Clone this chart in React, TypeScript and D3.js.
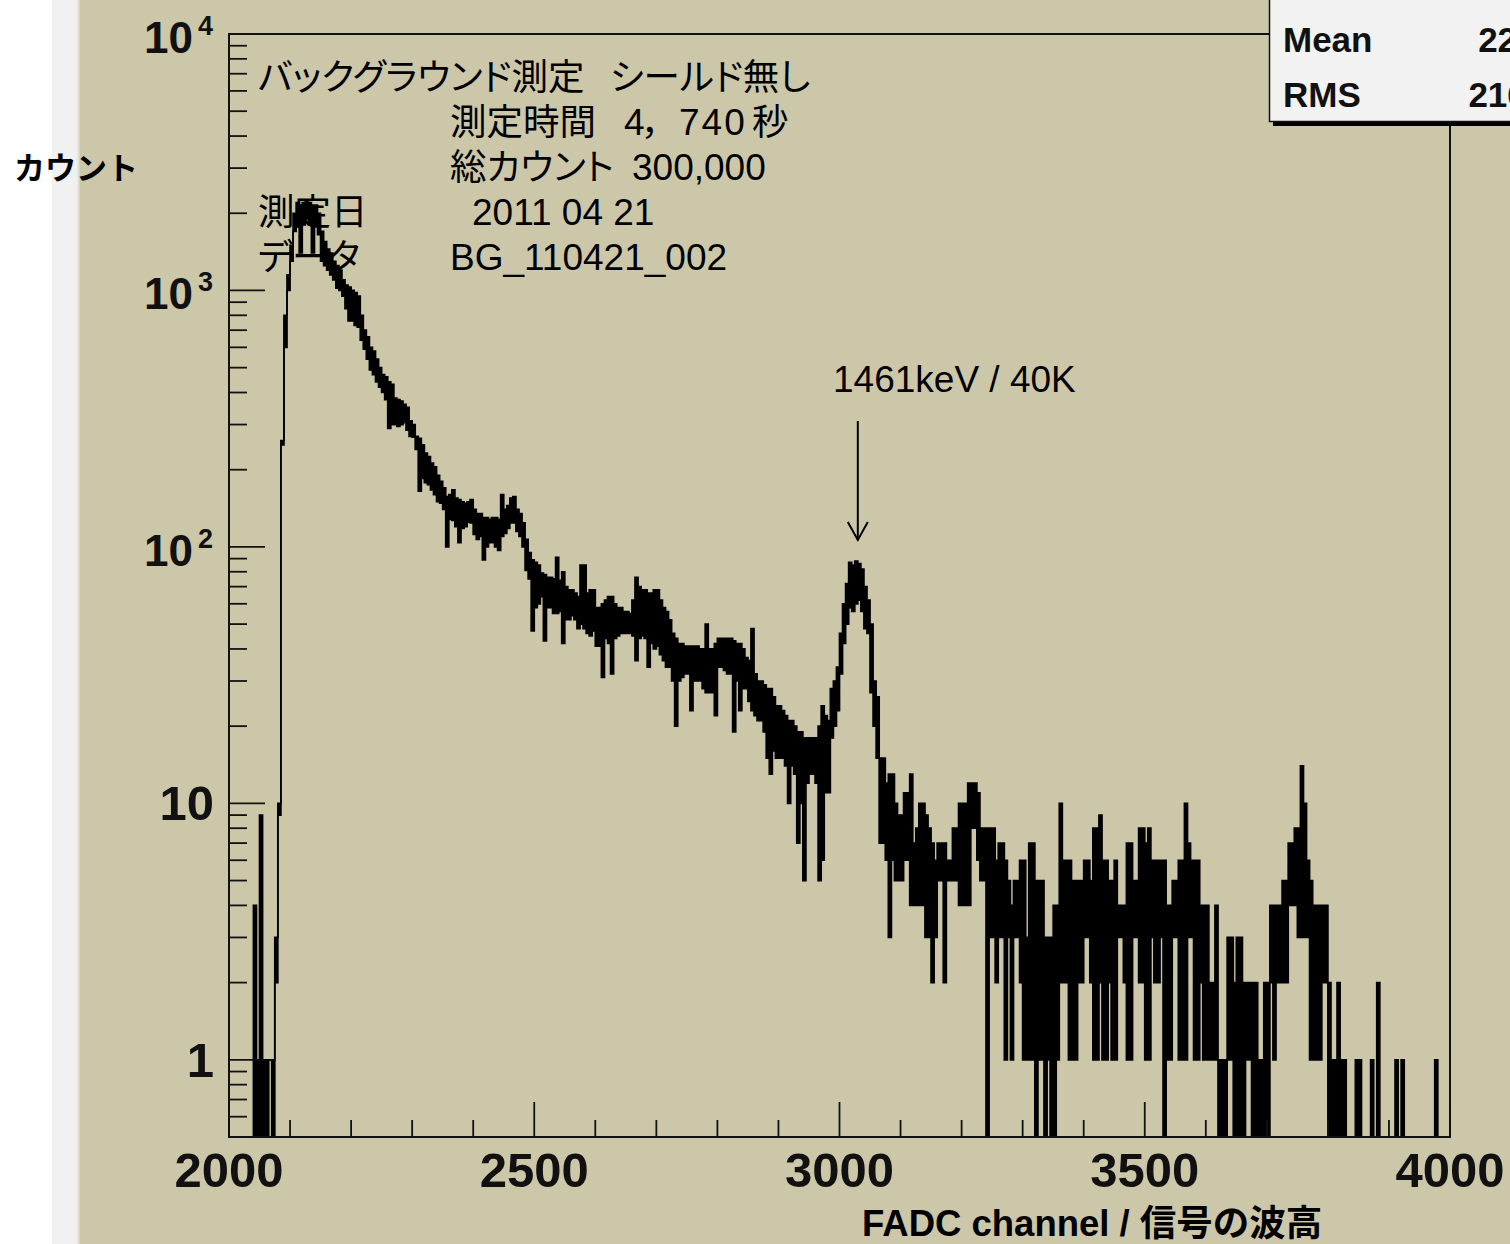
import React from 'react';
import * as d3 from 'd3';

// ---- data ----
// The spectrum is drawn with 1-channel bins in the original, so at this scale it
// appears as a band. For every 5-channel group the upper and lower edge of that
// band (counts per bin) are read off the picture.
const channelStart = 2000;
const groupWidth = 5;

const bandHigh: number[] = [
  0, 0, 0, 0, 0, 0, 0, 0, 4, 1,
  9, 1, 1, 1, 1, 3, 10, 260, 800, 1150,
  1500, 2000, 2200, 2150, 2200, 2250, 2200, 2150, 2150, 2000,
  1700, 1550, 1450, 1400, 1300, 1250, 1200, 1100, 1050, 1030,
  1000, 980, 950, 800, 700, 660, 600, 580, 540, 500,
  470, 460, 440, 430, 380, 375, 370, 360, 350, 310,
  300, 270, 265, 250, 232, 225, 212, 205, 190, 180,
  170, 157, 160, 167, 155, 153, 150, 148, 150, 153,
  140, 135, 135, 130, 130, 128, 130, 130, 128, 160,
  140, 145, 155, 157, 140, 135, 124, 107, 95, 89,
  87, 85, 79, 78, 76, 76, 75, 91, 74, 80,
  70, 68, 68, 66, 64, 85, 85, 66, 68, 68,
  58, 58, 60, 62, 64, 64, 60, 58, 58, 56,
  56, 55, 62, 76, 70, 68, 68, 66, 66, 68,
  68, 62, 58, 56, 52, 46, 44, 42, 42, 41,
  41, 41, 41, 41, 40, 40, 50, 40, 40, 42,
  44, 44, 44, 44, 44, 43, 42, 42, 40, 37,
  36, 48, 32, 30, 30, 29, 28, 28, 26, 24,
  24, 23, 22, 21, 21, 20, 19, 19, 18, 18,
  18, 18, 18, 20, 24, 22, 21, 28, 30, 34,
  46, 60, 72, 87, 85, 88, 86, 82, 70, 62,
  50, 30, 26, 15, 15, 12, 13, 13, 10, 9,
  9, 11, 11, 13, 7, 8, 10, 10, 9, 8,
  7, 6, 7, 7, 7, 6, 6, 8, 8, 10,
  10, 10, 12, 12, 12, 11, 8, 8, 8, 8,
  8, 6, 7, 7, 6, 5, 4, 5, 5, 6,
  6, 3, 7, 7, 5, 5, 5, 3, 3, 3,
  4, 4, 10, 6, 6, 6, 5, 5, 5, 5,
  6, 6, 5, 8, 8, 9, 6, 6, 5, 5,
  6, 4, 4, 4, 7, 7, 5, 5, 8, 8,
  7, 8, 6, 6, 6, 6, 6, 4, 4, 5,
  5, 6, 6, 10, 7, 6, 6, 6, 4, 4,
  4, 2, 2, 4, 1, 1, 1, 3, 3, 2,
  3, 3, 2, 2, 2, 2, 2, 1, 1, 2,
  2, 4, 4, 4, 4, 5, 5, 7, 7, 8,
  8, 14, 10, 6, 5, 4, 4, 4, 4, 4,
  2, 1, 1, 2, 1, 1, 0, 0, 0, 1,
  1, 0, 0, 0, 1, 0, 2, 0, 0, 0,
  0, 0, 1, 0, 1, 0, 0, 0, 0, 0,
  0, 0, 0, 0, 0, 1, 0, 0, 0, 0,
];

const bandLow: number[] = [
  0, 0, 0, 0, 0, 0, 0, 0, 0, 0,
  0, 0, 0, 1, 0, 2, 9, 250, 600, 1000,
  1300, 1700, 1800, 1400, 1800, 1900, 1800, 1400, 1800, 1650,
  1300, 1250, 1200, 1150, 1100, 1020, 1000, 950, 850, 760,
  760, 730, 720, 640, 590, 540, 490, 470, 440, 420,
  400, 375, 290, 300, 300, 295, 300, 305, 285, 270,
  268, 240, 165, 185, 178, 175, 167, 160, 150, 148,
  140, 100, 128, 127, 120, 104, 118, 120, 125, 124,
  112, 107, 110, 89, 100, 104, 104, 100, 97, 110,
  113, 118, 124, 124, 115, 110, 100, 81, 75, 47,
  58, 60, 64, 43, 58, 58, 55, 55, 56, 42,
  52, 52, 54, 52, 48, 50, 48, 46, 45, 47,
  41, 41, 31, 44, 42, 32, 44, 45, 46, 46,
  46, 46, 45, 36, 44, 45, 44, 34, 42, 40,
  41, 38, 36, 34, 34, 30, 20, 30, 31, 32,
  32, 23, 30, 30, 30, 28, 27, 27, 27, 22,
  34, 34, 33, 32, 32, 19, 30, 23, 28, 28,
  25, 23, 22, 21, 21, 19, 15, 13, 16, 15,
  15, 15, 14, 10, 14, 13, 7, 10, 5, 12,
  13, 13, 12, 5, 6, 11, 11, 18, 20, 23,
  32, 42, 50, 58, 56, 60, 62, 56, 48, 46,
  27, 20, 15, 7, 7, 6, 3, 6, 5, 5,
  5, 6, 6, 4, 4, 4, 4, 4, 3, 3,
  2, 3, 5, 5, 2, 5, 5, 5, 5, 4,
  4, 4, 4, 8, 8, 6, 5, 5, 0, 3,
  3, 2, 3, 3, 1, 3, 1, 3, 3, 2,
  1, 1, 1, 1, 0, 1, 1, 0, 1, 0,
  0, 1, 2, 2, 2, 1, 1, 1, 2, 2,
  3, 3, 2, 1, 1, 2, 1, 1, 2, 1,
  1, 3, 3, 2, 1, 1, 3, 3, 2, 2,
  1, 1, 3, 2, 2, 3, 0, 1, 1, 3,
  3, 1, 1, 1, 3, 3, 1, 1, 2, 1,
  1, 1, 1, 1, 0, 0, 0, 1, 1, 0,
  0, 0, 0, 1, 1, 0, 0, 0, 0, 0,
  0, 2, 1, 2, 2, 2, 2, 4, 4, 4,
  3, 3, 3, 3, 1, 1, 1, 1, 2, 2,
  0, 0, 0, 0, 0, 0, 0, 0, 0, 0,
  0, 0, 0, 0, 0, 0, 0, 0, 0, 0,
  0, 0, 0, 0, 0, 0, 0, 0, 0, 0,
  0, 0, 0, 0, 0, 0, 0, 0, 0, 0,
];

const xDomain = [2000, 4000];
const yDomain = [0.5, 10000];
const xMajorTicks = [2000, 2500, 3000, 3500, 4000];
const xMinorStep = 100;
const yPlainLabels = [
  { v: 1, label: '1' },
  { v: 10, label: '10' },
];
const yPowerLabels = [
  { v: 100, exp: '2' },
  { v: 1000, exp: '3' },
  { v: 10000, exp: '4' },
];

type Part = { t: string; x: number; cjk: boolean; ls?: number };
const titleLines: Part[][] = [
  [{ t: 'バックグラウンド測定', x: 258, cjk: true }, { t: 'シールド無し', x: 610, cjk: true }],
  [
    { t: '測定時間', x: 450, cjk: true },
    { t: '4', x: 624, cjk: false },
    { t: '，', x: 643, cjk: true },
    { t: '740', x: 679, cjk: false, ls: 2 },
    { t: '秒', x: 752, cjk: true },
  ],
  [{ t: '総カウント', x: 450, cjk: true }, { t: '300,000', x: 632, cjk: false }],
  [{ t: '測定日', x: 258, cjk: true }, { t: '2011 04 21', x: 472, cjk: false }],
  [{ t: 'データ', x: 258, cjk: true }, { t: 'BG_110421_002', x: 450, cjk: false }],
];
const lineBaselines = [89.5, 135, 180, 225, 270];

const peakLabel = '1461keV / 40K';
const peakChannel = 3030;
const statsRows = [
  { name: 'Mean', value: '2266' },
  { name: 'RMS', value: '216.6' },
];

const LATIN = "'Liberation Sans', Arial, Helvetica, sans-serif";
const CJK = "'Noto Sans CJK JP', 'Noto Sans CJK SC', sans-serif";
const BG = '#cdc7aa';

export default function App() {
  const W = 1510;
  const H = 1244;
  const fr = { left: 229, right: 1450, top: 34, bottom: 1137 };

  const x = d3.scaleLinear().domain(xDomain).range([fr.left, fr.right]);
  const y = d3.scaleLog().domain(yDomain).range([fr.bottom, fr.top]);
  const yv = (v: number) => y(Math.max(v, yDomain[0]));

  type Row = { ch: number; hi: number; lo: number };
  const rows: Row[] = bandHigh.map((h, i) => ({
    ch: channelStart + i * groupWidth,
    hi: h,
    lo: bandLow[i],
  }));
  const last = rows[rows.length - 1];
  rows.push({ ch: channelStart + bandHigh.length * groupWidth, hi: last.hi, lo: last.lo });

  const area = d3
    .area<Row>()
    .x((d) => x(d.ch))
    .y0((d) => yv(d.lo))
    .y1((d) => yv(d.hi))
    .curve(d3.curveStepAfter);
  const hiLine = d3
    .line<Row>()
    .x((d) => x(d.ch))
    .y((d) => yv(d.hi))
    .curve(d3.curveStepAfter);
  const loLine = d3
    .line<Row>()
    .x((d) => x(d.ch))
    .y((d) => yv(d.lo))
    .curve(d3.curveStepAfter);

  const xMinor = d3.range(xDomain[0], xDomain[1] + 1, xMinorStep).filter((v) => v % 500 !== 0);
  const yMajor = [1, 10, 100, 1000];
  const yMinor: number[] = [];
  [0.1, 1, 10, 100, 1000].forEach((d) => {
    for (let k = 2; k <= 9; k++) {
      const v = d * k;
      if (v >= yDomain[0] && v < yDomain[1]) yMinor.push(v);
    }
  });

  const px = x(peakChannel);

  return (
    <svg
      width={W}
      height={H}
      viewBox={`0 0 ${W} ${H}`}
      style={{ position: 'absolute', left: 0, top: 0, display: 'block' }}
    >
      <defs>
        <clipPath id="frameClip">
          <rect x={fr.left} y={fr.top} width={fr.right - fr.left} height={fr.bottom - fr.top} />
        </clipPath>
      </defs>
      <rect x={0} y={0} width={W} height={H} fill="#ffffff" />
      <rect x={52} y={0} width={W - 52} height={H} fill="#f1f1f1" />
      <rect x={78} y={0} width={W - 78} height={H} fill={BG} />
      <line x1={78.5} y1={0} x2={78.5} y2={H} stroke="#e2dfd0" strokeWidth={2} />

      {/* histogram band */}
      <g clipPath="url(#frameClip)">
        <path d={area(rows) || ''} fill="#000" stroke="none" />
        <path d={hiLine(rows) || ''} fill="none" stroke="#000" strokeWidth={1.7} />
        <path d={loLine(rows) || ''} fill="none" stroke="#000" strokeWidth={1.7} />
      </g>

      {/* frame */}
      <rect
        x={fr.left}
        y={fr.top}
        width={fr.right - fr.left}
        height={fr.bottom - fr.top}
        fill="none"
        stroke="#111"
        strokeWidth={2}
      />

      {/* x ticks */}
      {xMinor.map((v) => (
        <line key={'xm' + v} x1={x(v)} x2={x(v)} y1={fr.bottom} y2={fr.bottom - 17} stroke="#111" strokeWidth={1.8} />
      ))}
      {xMajorTicks.map((v) => (
        <line key={'xM' + v} x1={x(v)} x2={x(v)} y1={fr.bottom} y2={fr.bottom - 35} stroke="#111" strokeWidth={1.8} />
      ))}
      {xMajorTicks.map((v) => (
        <text
          key={'xl' + v}
          x={x(v)}
          y={1187}
          textAnchor="middle"
          fontFamily={LATIN}
          fontWeight="bold"
          fontSize={49}
          fill="#111"
        >
          {String(v)}
        </text>
      ))}

      {/* y ticks */}
      {yMinor.map((v) => (
        <line key={'ym' + v} x1={fr.left} x2={fr.left + 18} y1={y(v)} y2={y(v)} stroke="#111" strokeWidth={1.8} />
      ))}
      {yMajor.map((v) => (
        <line key={'yM' + v} x1={fr.left} x2={fr.left + 36} y1={y(v)} y2={y(v)} stroke="#111" strokeWidth={1.8} />
      ))}
      {yPlainLabels.map((d) => (
        <text
          key={'yl' + d.v}
          x={214}
          y={y(d.v) + 17}
          textAnchor="end"
          fontFamily={LATIN}
          fontWeight="bold"
          fontSize={49}
          fill="#111"
        >
          {d.label}
        </text>
      ))}
      {yPowerLabels.map((d) => (
        <g key={'yp' + d.v}>
          <text
            x={193}
            y={y(d.v) + 19}
            textAnchor="end"
            fontFamily={LATIN}
            fontWeight="bold"
            fontSize={44}
            fill="#111"
          >
            10
          </text>
          <text x={198} y={y(d.v) + 1} fontFamily={LATIN} fontWeight="bold" fontSize={27} fill="#111">
            {d.exp}
          </text>
        </g>
      ))}

      {/* axis titles */}
      <text x={14} y={179} fontFamily={CJK} fontWeight="bold" fontSize={31} fill="#000">
        カウント
      </text>
      <text x={862} y={1236} fontWeight="bold" fill="#000">
        <tspan fontFamily={LATIN} fontSize={36.5}>
          {'FADC channel / '}
        </tspan>
        <tspan fontFamily={CJK} fontSize={36.5}>
          信号の波高
        </tspan>
      </text>

      {/* annotation block */}
      {titleLines.map((ln, i) => (
        <g key={'tl' + i}>
          {ln.map((p, j) => (
            <text
              key={j}
              x={p.x}
              y={lineBaselines[i]}
              fontFamily={p.cjk ? CJK : LATIN}
              fontSize={p.cjk ? 36.5 : 37}
              letterSpacing={p.ls || 0}
              style={p.cjk ? { fontFeatureSettings: "'palt' 1" } : undefined}
              fill="#000"
            >
              {p.t}
            </text>
          ))}
        </g>
      ))}

      {/* peak annotation */}
      <text x={833} y={392} fontFamily={LATIN} fontSize={37} fill="#000">
        {peakLabel}
      </text>
      <path d={`M${px},421 V540`} stroke="#000" strokeWidth={2} fill="none" />
      <path d={`M${px - 10},522 L${px},540 L${px + 10},522`} stroke="#000" strokeWidth={2} fill="none" />

      {/* stats box */}
      <rect x={1273} y={118} width={300} height={8} fill="#000" />
      <rect x={1269.5} y={-10} width={300} height={131.5} fill="#f2f2f2" stroke="#111" strokeWidth={1.5} />
      {statsRows.map((r, i) => (
        <g key={'st' + i}>
          <text x={1283} y={52 + i * 55} fontFamily={LATIN} fontWeight="bold" fontSize={35} fill="#111">
            {r.name}
          </text>
          <text
            x={1556}
            y={52 + i * 55}
            textAnchor="end"
            fontFamily={LATIN}
            fontWeight="bold"
            fontSize={35}
            fill="#111"
          >
            {r.value}
          </text>
        </g>
      ))}
    </svg>
  );
}
